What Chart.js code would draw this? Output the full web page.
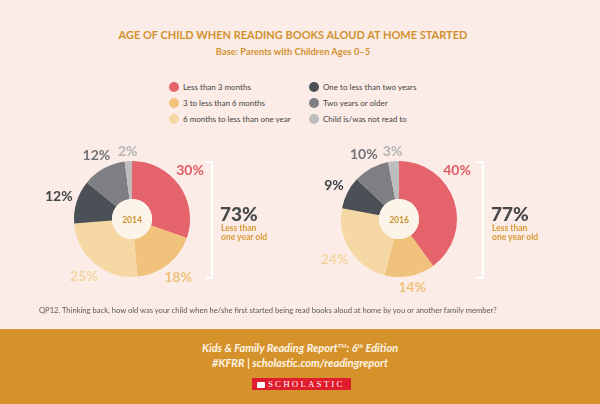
<!DOCTYPE html>
<html><head><meta charset="utf-8">
<script src="https://cdn.jsdelivr.net/npm/chart.js@4.4.1/dist/chart.umd.min.js"></script>
<style>
body{margin:0;background:#fbece7;}
#wrap{position:relative;width:600px;height:404px;background:#fbece7;overflow:hidden;font-family:Lato,'Open Sans',sans-serif;}
.abs{position:absolute;white-space:nowrap;}
#title{left:0;width:586px;top:28px;text-align:center;color:#d2912e;font-weight:700;font-size:11px;line-height:14px;}
#subtitle{left:0;width:586px;top:46px;text-align:center;color:#d2912e;font-weight:700;font-size:9.3px;line-height:12px;}
.leg{position:absolute;font-size:8px;line-height:10px;color:#444;white-space:nowrap;}
.dot{position:absolute;width:10px;height:10px;border-radius:50%;}
.pie{position:absolute;width:220px;height:180px;}
.bracket{position:absolute;width:5px;height:114px;border:2px solid #ffffff;border-left:none;}
.big{position:absolute;font-size:19px;font-weight:900;line-height:22px;color:#45474b;}
.note{position:absolute;font-size:8.5px;font-weight:700;line-height:9.5px;color:#d69a36;}
#question{left:39px;top:305px;font-size:7.6px;line-height:10px;color:#5a5a5a;}
#band{left:0;top:329px;width:600px;height:75px;background:#d6922a;}
.foot{left:0;width:600px;text-align:center;color:#fff5e6;font-style:italic;font-weight:700;font-size:11px;line-height:14px;}
.foot sup{font-size:6px;line-height:0;vertical-align:4px;}
#logo{left:252px;top:378px;width:99px;height:12px;background:#e11b2e;color:#fff;font-family:'Liberation Serif',serif;font-size:9px;line-height:12px;letter-spacing:2.1px;text-align:left;}
#logo .book{display:inline-block;width:8px;height:6px;background:#fff;margin:0 3px 0 5px;vertical-align:-0.5px;border-radius:1px;}
</style></head>
<body>
<div id="wrap">
  <div id="title" class="abs">AGE OF CHILD WHEN READING BOOKS ALOUD AT HOME STARTED</div>
  <div id="subtitle" class="abs">Base: Parents with Children Ages 0–5</div>
  <div id="legend"></div>
  <div id="pies"></div>
  <div id="question" class="abs">QP12. Thinking back, how old was your child when he/she first started being read books aloud at home by you or another family member?</div>
  <div id="band" class="abs"></div>
  <div class="abs foot" style="top:341px;">Kids &amp; Family Reading Report<sup>TM</sup>: 6<sup>th</sup> Edition</div>
  <div class="abs foot" style="top:356px;">#KFRR | scholastic.com/readingreport</div>
  <div id="logo" class="abs"><span class="book"></span>SCHOLASTIC</div>
</div>
<script>
// ---- data ----
const categories = ['Less than 3 months','3 to less than 6 months','6 months to less than one year','One to less than two years','Two years or older','Child is/was not read to'];
const years = ['2014','2016'];
const values2014 = [30,18,25,12,12,2];
const values2016 = [40,14,24,9,10,3];
const underOneYear = [73,77];
const summaryText = ['Less than','one year old'];

// ---- styles ----
const sliceColors = ['#e5636a','#f0c27b','#f5d8a4','#4b5056','#7e7f83','#bdbdbd'];
const labelColors = ['#e05b63','#efc27a','#f3d6a2','#3f4449','#727377','#b3b3b3'];
const seriesValues = [values2014, values2016];

// legend
const legend = document.getElementById('legend');
const legCols = [174, 314], legRows = [87, 103, 119];
categories.forEach((c,i)=>{
  const col = Math.floor(i/3), row = i%3;
  const d = document.createElement('div');
  d.className='dot'; d.style.background=sliceColors[i];
  d.style.left=(legCols[col]-5)+'px'; d.style.top=(legRows[row]-5)+'px';
  legend.appendChild(d);
  const t = document.createElement('div');
  t.className='leg'; t.textContent=c;
  t.style.left=(legCols[col]+9)+'px'; t.style.top=(legRows[row]-5)+'px';
  legend.appendChild(t);
});

const pctPlugin = {
  id:'pctLabels',
  afterDatasetsDraw(chart){
    const ctx = chart.ctx;
    const meta = chart.getDatasetMeta(0);
    const ds = chart.data.datasets[0];
    let cx=0, cy=0, ir=0;
    meta.data.forEach((arc,i)=>{
      const p = arc.getProps(['x','y','startAngle','endAngle','outerRadius','innerRadius'], true);
      cx=p.x; cy=p.y; ir=p.innerRadius;
      let th = (p.startAngle+p.endAngle)/2 + Math.PI/2;
      const lim = 50*Math.PI/180;
      if (th>lim && th<Math.PI/2) th = lim;
      const txt = ds.data[i]+'%';
      ctx.save();
      ctx.font = '700 14px Lato';
      const w = ctx.measureText(txt).width, h = 10;
      const s = Math.sin(th), c = Math.cos(th);
      const d = p.outerRadius + 4 + (w/2)*Math.abs(s) + (h/2)*Math.abs(c);
      ctx.fillStyle = labelColors[i];
      ctx.textAlign='center'; ctx.textBaseline='middle';
      ctx.fillText(txt, p.x + d*s, p.y - d*c);
      ctx.restore();
    });
    ctx.save();
    ctx.beginPath(); ctx.arc(cx,cy,ir,0,Math.PI*2); ctx.fillStyle='#fcf3e9'; ctx.fill();
    ctx.font='700 8.5px Lato'; ctx.fillStyle='#c8922f'; ctx.textAlign='center'; ctx.textBaseline='middle';
    ctx.fillText(chart.options.plugins.pctLabels.year, cx, cy+1);
    ctx.restore();
  }
};

const pieCenters = [[131.5,218.7],[398.7,218.7]];
const bracketX = [211, 482];
const pies = document.getElementById('pies');
years.forEach((yr,k)=>{
  const box = document.createElement('div');
  box.className='pie';
  box.style.left=(pieCenters[k][0]-110)+'px';
  box.style.top=(pieCenters[k][1]-90)+'px';
  const cv = document.createElement('canvas');
  cv.width=220; cv.height=180;
  box.appendChild(cv); pies.appendChild(box);
  new Chart(cv, {
    type:'doughnut',
    data:{labels:categories, datasets:[{data:seriesValues[k], backgroundColor:sliceColors, borderWidth:0}]},
    options:{
      responsive:false, animation:false, events:[], cutout:'34.5%',
      layout:{padding:{left:52,right:52,top:32,bottom:32}},
      plugins:{legend:{display:false}, tooltip:{enabled:false}, pctLabels:{year:yr}}
    },
    plugins:[pctPlugin]
  });
  const br = document.createElement('div');
  br.className='bracket';
  br.style.left=(bracketX[k]-5)+'px'; br.style.top=(pieCenters[k][1]-58)+'px';
  pies.appendChild(br);
  const big = document.createElement('div');
  big.className='big'; big.textContent=underOneYear[k]+'%';
  big.style.left=(bracketX[k]+9)+'px'; big.style.top=(pieCenters[k][1]-16)+'px';
  pies.appendChild(big);
  summaryText.forEach((s,j)=>{
    const n = document.createElement('div');
    n.className='note'; n.textContent=s;
    n.style.left=(bracketX[k]+10)+'px'; n.style.top=(pieCenters[k][1]+5+j*9.5)+'px';
    pies.appendChild(n);
  });
});
</script>
</body></html>
